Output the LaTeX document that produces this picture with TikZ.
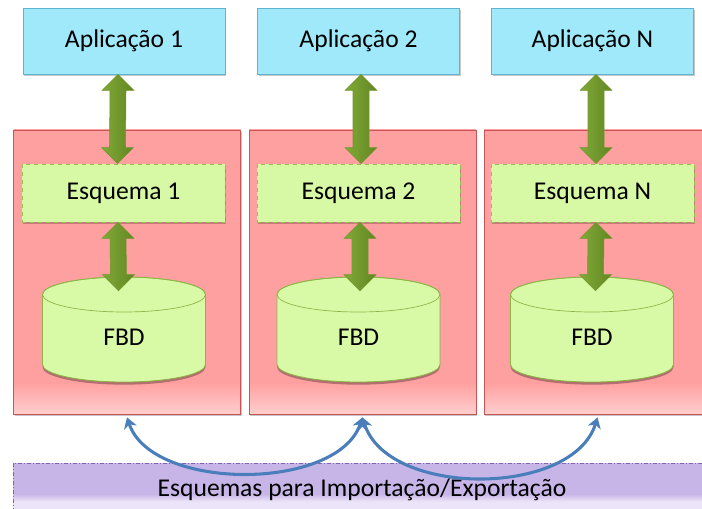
\documentclass[tikz,border=0pt]{standalone}
\usepackage{fontspec}
\setmainfont{Carlito}
\usetikzlibrary{calc,shadows,arrows.meta}

\definecolor{appfill}{RGB}{160,233,251}
\definecolor{appdraw}{RGB}{95,180,210}
\definecolor{panelfill}{RGB}{255,160,160}
\definecolor{panellight}{RGB}{255,206,206}
\definecolor{paneldraw}{RGB}{200,85,85}
\definecolor{schemafill}{RGB}{215,248,165}
\definecolor{schemadraw}{RGB}{150,190,80}
\definecolor{cylfill}{RGB}{216,249,166}
\definecolor{cyldraw}{RGB}{140,180,70}
\definecolor{bandfill}{RGB}{200,181,232}
\definecolor{bandlight}{RGB}{236,228,248}
\definecolor{banddraw}{RGB}{130,100,170}
\definecolor{linkblue}{RGB}{74,126,187}
\definecolor{garrowA}{RGB}{128,170,55}
\definecolor{garrowB}{RGB}{160,204,84}
\definecolor{garrowC}{RGB}{98,134,34}
\definecolor{garrowD}{RGB}{112,150,44}

% fill of the red columns: plain, fading lighter near the bottom edge
\pgfdeclareverticalshading{panelshade}{100bp}{%
  color(0bp)=(panellight); color(25bp)=(panellight);
  color(30.5bp)=(panelfill); color(100bp)=(panelfill)}
% fill of the import/export band: lighter strip along its lower part
\pgfdeclareverticalshading{bandshade}{100bp}{%
  color(0bp)=(bandlight); color(25bp)=(bandlight); color(44bp)=(bandlight);
  color(50bp)=(bandfill); color(100bp)=(bandfill)}

% thick green double arrow between two anchors (#3 = horizontal offset in px)
\newcommand\greenlink[3]{%
  \path[garrow] ($(#1)+(#3,0)$) -- ++(16,16) -- ++(-8,0)
    -- ($(#2)+(#3+8,-16)$) -- ++(8,0) -- ++(-16,16) -- ++(-16,-16) -- ++(8,0)
    -- ($(#1)+(#3-8,16)$) -- ++(-8,0) -- cycle;}

% database cylinder: #1 name, #2 centre x
\newcommand\database[2]{%
  \path[cyl] (#2-81.5,294.5) -- (#2-81.5,364.5)
    arc[start angle=180, end angle=0, x radius=81.5, y radius=17.5]
    -- (#2+81.5,294.5)
    arc[start angle=0, end angle=-180, x radius=81.5, y radius=17.5] -- cycle;
  \draw[cyldraw, line width=0.5pt] (#2,294.5) ellipse[x radius=81.5, y radius=17.5];
  \node[minimum width=122.25pt, minimum height=78.75pt, inner sep=0] (#1) at (#2,329.5) {};
  \node (#1text) at (#2,337) {FBD};}

\begin{document}
\begin{tikzpicture}[x=0.75pt, y=-0.75pt,
  font=\fontsize{19.2}{22}\selectfont,
  softshadow/.style={drop shadow={shadow xshift=0.8pt, shadow yshift=-1.5pt, opacity=0.22, fill=black}},
  appbox/.style={draw=appdraw, line width=0.6pt, fill=appfill, inner sep=0,
    minimum width=151.5pt, minimum height=49.5pt, softshadow},
  panel/.style={draw=paneldraw, line width=0.6pt, shading=panelshade, inner sep=0,
    minimum width=170.25pt, minimum height=213pt, softshadow},
  schemabox/.style={draw=schemadraw, dashed, line width=0.6pt, fill=schemafill, inner sep=0,
    minimum width=152.25pt, minimum height=43.5pt, softshadow},
  cyl/.style={fill=cylfill, draw=cyldraw, line width=0.6pt,
    drop shadow={shadow xshift=0pt, shadow yshift=-2pt, opacity=0.3, fill=black}},
  garrow/.style={left color=garrowA, middle color=garrowB, right color=garrowC,
    draw=garrowD, line width=0.4pt, line join=miter},
  band/.style={draw=banddraw, dash pattern=on 3pt off 1.5pt on 0.8pt off 1.5pt, line width=0.6pt,
    shading=bandshade, inner sep=0, minimum width=524.25pt, minimum height=46.5pt},
  link/.style={draw=linkblue, line width=2.3pt,
    {Stealth[length=8pt, width=10pt, inset=2.5pt]}-{Stealth[length=8pt, width=10pt, inset=2.5pt]}}
]
\useasboundingbox (0,0) rectangle (702,509);
\fill[white] (0,0) rectangle (702,509);

% columns
\node[panel] (p1) at (127,272) {};
\node[panel] (p2) at (362.5,272) {};
\node[panel] (p3) at (597.5,272) {};

\node[appbox] (app1) at (124,41) {Aplicação 1};
\node[appbox] (app2) at (358.5,41) {Aplicação 2};
\node[appbox] (app3) at (592.5,41) {Aplicação N};

\node[schemabox] (esq1) at (123.5,193) {Esquema 1};
\node[schemabox] (esq2) at (358.5,193) {Esquema 2};
\node[schemabox] (esq3) at (592.5,193) {Esquema N};

\database{db1}{124}
\database{db2}{358.5}
\database{db3}{592}

\coordinate (db1in) at ($(db1.north)+(0,14)$);
\coordinate (db2in) at ($(db2.north)+(0,14)$);
\coordinate (db3in) at ($(db3.north)+(0,14)$);

\greenlink{app1.south}{esq1.north}{-6}
\greenlink{app2.south}{esq2.north}{2.5}
\greenlink{app3.south}{esq3.north}{3.5}
\greenlink{esq1.south}{db1in}{-5.5}
\greenlink{esq2.south}{db2in}{1.5}
\greenlink{esq3.south}{db3in}{3.5}

% import/export band
\node[band] (band) at (362.5,494) {};
\node (bandtext) at (362,490) {Esquemas para Importação/Exportação};

% exchange arcs between the columns
\coordinate (x1) at ($(p1.south)+(0,3)$);
\coordinate (x2) at ($(p2.south)+(0,3)$);
\coordinate (x3) at ($(p3.south)+(0,3)$);
\draw[link] (x1) .. controls +(25,74) and +(-25,74) .. (x2);
\draw[link] (x2) .. controls +(25,80) and +(-25,80) .. (x3);
\end{tikzpicture}
\end{document}
